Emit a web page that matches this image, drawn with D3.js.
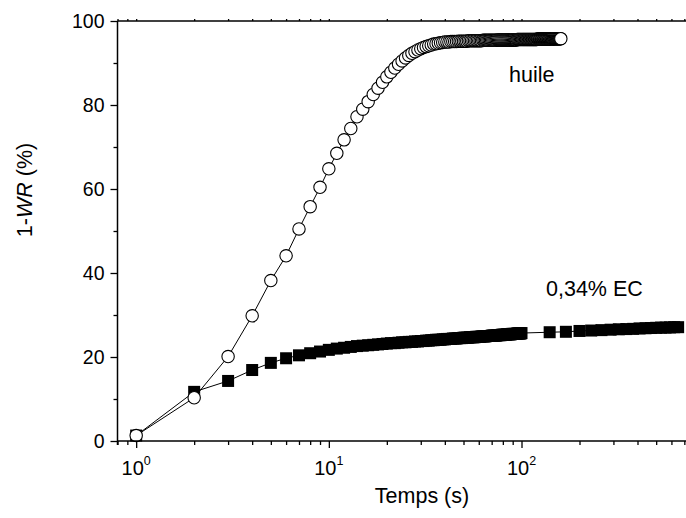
<!DOCTYPE html>
<html>
<head>
<meta charset="utf-8">
<script src="https://cdn.jsdelivr.net/npm/d3@7"></script>
<style>
  html, body { margin: 0; padding: 0; background: #fff; }
  svg { display: block; font-family: "Liberation Sans", Arial, Helvetica, sans-serif; }
</style>
</head>
<body>
<svg id="chart" width="686" height="518"></svg>
<script>
// ---- Data ----
const huileTime = [
  1,2,3,4,5,6,7,8,9,10,11,12,13,14,15,16,17,18,19,20,
  21,22,23,24,25,26,27,28,29,30,31,32,33,34,35,36,37,38,39,40,
  41,42,43,44,45,46,47,48,49,50,51,52,53,54,55,56,57,58,59,60,
  61,62,63,64,65,66,67,68,69,70,71,72,73,74,75,76,77,78,79,80,
  81,82,83,84,85,86,87,88,89,90,91,92,93,94,95,96,97,98,99,100,
  101,102,103,104,105,106,107,108,109,110,111,112,113,114,115,116,117,118,119,120,
  121,122,123,124,125,126,127,128,129,130,131,132,133,134,135,136,137,138,139,140,
  141,142,143,144,145,146,147,148,149,150,151,152,153,154,155,156,157,158,159,160
];
const huileValue = [
  1.3,10.3,20.1,29.8,38.2,44.1,50.5,55.8,60.4,64.8,
  68.5,71.7,74.4,77.2,79.0,80.8,82.5,84.0,85.4,86.7,
  87.8,88.8,89.7,90.5,91.2,91.8,92.3,92.7,93.1,93.4,
  93.7,93.9,94.1,94.3,94.5,94.6,94.7,94.8,94.9,95.0,
  95.0,95.0,95.1,95.1,95.1,95.1,95.2,95.2,95.2,95.2,
  95.2,95.2,95.3,95.3,95.3,95.3,95.3,95.3,95.3,95.3,
  95.3,95.3,95.4,95.4,95.4,95.4,95.4,95.4,95.4,95.4,
  95.4,95.4,95.4,95.4,95.5,95.5,95.5,95.5,95.5,95.5,
  95.5,95.5,95.5,95.5,95.5,95.5,95.5,95.5,95.5,95.5,
  95.5,95.5,95.5,95.5,95.6,95.6,95.6,95.6,95.6,95.6,
  95.6,95.6,95.6,95.6,95.6,95.6,95.6,95.6,95.6,95.6,
  95.6,95.6,95.6,95.6,95.6,95.6,95.6,95.6,95.6,95.6,
  95.7,95.7,95.7,95.7,95.7,95.7,95.7,95.7,95.7,95.7,
  95.7,95.7,95.7,95.7,95.7,95.7,95.7,95.7,95.7,95.7,
  95.7,95.7,95.7,95.7,95.7,95.8,95.8,95.8,95.8,95.8,
  95.8,95.8,95.8,95.8,95.8,95.8,95.8,95.8,95.8,95.8
];
const ecTime = [
  1,2,3,4,5,6,7,8,9,10,11,12,13,14,15,16,17,18,19,20,
  21,22,23,24,25,26,27,28,29,30,31,32,33,34,35,36,37,38,39,40,
  41,42,43,44,45,46,47,48,49,50,51,52,53,54,55,56,57,58,59,60,
  61,62,63,64,65,66,67,68,69,70,71,72,73,74,75,76,77,78,79,80,
  81,82,83,84,85,86,87,88,89,90,91,92,93,94,95,96,97,98,99,100,
  140,170,200,230,260,290,320,350,380,410,440,470,500,530,560,590,620,650
];
const ecValue = [
  1.3,11.7,14.3,16.9,18.6,19.7,20.4,20.9,21.3,21.7,
  22.0,22.2,22.4,22.6,22.7,22.8,22.9,23.0,23.1,23.2,
  23.3,23.3,23.4,23.5,23.5,23.6,23.6,23.7,23.7,23.8,
  23.8,23.9,23.9,24.0,24.0,24.1,24.1,24.1,24.2,24.2,
  24.3,24.3,24.3,24.4,24.4,24.4,24.5,24.5,24.5,24.6,
  24.6,24.6,24.6,24.7,24.7,24.7,24.7,24.8,24.8,24.8,
  24.8,24.9,24.9,24.9,24.9,25.0,25.0,25.0,25.0,25.1,
  25.1,25.1,25.1,25.1,25.2,25.2,25.2,25.2,25.3,25.3,
  25.3,25.3,25.3,25.4,25.4,25.4,25.4,25.4,25.5,25.5,
  25.5,25.5,25.5,25.5,25.6,25.6,25.6,25.6,25.6,25.7,
  25.9,26.0,26.2,26.3,26.4,26.5,26.6,26.65,26.7,26.8,
  26.85,26.9,26.95,27.0,27.0,27.05,27.1,27.1
];
const xMajorTicks = [1, 10, 100];
const xExponents = ["0", "1", "2"];
const xMinorTicks = [0.8,0.9,2,3,4,5,6,7,8,9,20,30,40,50,60,70,80,90,200,300,400,500,600,700];
const yMajorTicks = [0, 20, 40, 60, 80, 100];
const yMinorTicks = [10, 30, 50, 70, 90];
const seriesLabels = ["huile", "0,34% EC"];
const xTitle = "Temps (s)";

// ---- Chart ----
const svg = d3.select("#chart");
const x = d3.scaleLog().domain([0.8, 800]).range([117.5, 695.5]);
const y = d3.scaleLinear().domain([0, 100]).range([441, 21]);

const huile = huileTime.map((t, i) => ({t, v: huileValue[i]}));
const ec = ecTime.map((t, i) => ({t, v: ecValue[i]}));

const line = d3.line().x(d => x(d.t)).y(d => y(d.v));

// frame (top and right)
svg.append("line").attr("x1", x.range()[0]).attr("x2", x.range()[1])
  .attr("y1", y(100)).attr("y2", y(100)).attr("stroke", "#000").attr("stroke-width", 1.5);
svg.append("line").attr("x1", x.range()[1]).attr("x2", x.range()[1])
  .attr("y1", y(0)).attr("y2", y(100)).attr("stroke", "#000").attr("stroke-width", 1.5);
const topAx = svg.append("g").attr("transform", `translate(0,${y(100)})`)
  .call(d3.axisTop(x).tickValues(xMajorTicks.concat(xMinorTicks)).tickSize(2).tickFormat(""));
topAx.select(".domain").remove();
topAx.selectAll("line").attr("stroke-width", 1.2);

// EC series
svg.append("path").datum(ec).attr("d", line)
  .attr("fill", "none").attr("stroke", "#000").attr("stroke-width", 1);
svg.append("g").selectAll("rect").data(ec).join("rect")
  .attr("x", d => x(d.t) - 6).attr("y", d => y(d.v) - 6)
  .attr("width", 12).attr("height", 12).attr("fill", "#000");

// huile series
svg.append("path").datum(huile).attr("d", line)
  .attr("fill", "none").attr("stroke", "#000").attr("stroke-width", 1);
svg.append("g").selectAll("circle").data(huile).join("circle")
  .attr("cx", d => x(d.t)).attr("cy", d => y(d.v)).attr("r", 6.2)
  .attr("fill", "#fff").attr("stroke", "#000").attr("stroke-width", 1.1);

// x axis
const xAxMinor = svg.append("g").attr("transform", `translate(0,${y(0)})`)
  .call(d3.axisBottom(x).tickValues(xMinorTicks).tickSize(4).tickFormat(""));
xAxMinor.select(".domain").remove();
const xAx = svg.append("g").attr("transform", `translate(0,${y(0)})`)
  .call(d3.axisBottom(x).tickValues(xMajorTicks).tickSize(7).tickFormat(""));
xAx.select(".domain").attr("stroke-width", 1.5).attr("d", `M${x.range()[0]},0H${x.range()[1]}`);

xMajorTicks.forEach((v, i) => {
  const t = svg.append("text").attr("x", x(v)).attr("y", 475)
    .attr("text-anchor", "middle").attr("font-size", 20).attr("fill", "#000");
  t.append("tspan").text("10");
  t.append("tspan").attr("font-size", 12.5).attr("dy", -10).text(xExponents[i]);
});

// y axis
const yAxMinor = svg.append("g").attr("transform", `translate(${x.range()[0]},0)`)
  .call(d3.axisLeft(y).tickValues(yMinorTicks).tickSize(4).tickFormat(""));
yAxMinor.select(".domain").remove();
const yAx = svg.append("g").attr("transform", `translate(${x.range()[0]},0)`)
  .call(d3.axisLeft(y).tickValues(yMajorTicks).tickSize(7).tickPadding(6).tickFormat(d3.format("d")));
yAx.select(".domain").attr("stroke-width", 1.5).attr("d", `M0,${y(0) + 4}V${y(100)}`);
yAx.selectAll("text").attr("font-size", 19.5).attr("font-family", '"Liberation Sans", Arial, sans-serif').attr("fill", "#000");
svg.selectAll(".tick line").attr("stroke-width", 1.3);

// titles
svg.append("text").attr("x", 422).attr("y", 503).attr("text-anchor", "middle")
  .attr("font-size", 21.5).text(xTitle);
const yt = svg.append("text").attr("transform", "translate(32,190) rotate(-90)")
  .attr("text-anchor", "middle").attr("font-size", 21.5);
yt.append("tspan").text("1-");
yt.append("tspan").attr("font-style", "italic").text("WR");
yt.append("tspan").text(" (%)");

// series labels
svg.append("text").attr("x", 509).attr("y", 82).attr("font-size", 21.5).text(seriesLabels[0]);
svg.append("text").attr("x", 546).attr("y", 296).attr("font-size", 21.5).text(seriesLabels[1]);
</script>
</body>
</html>
